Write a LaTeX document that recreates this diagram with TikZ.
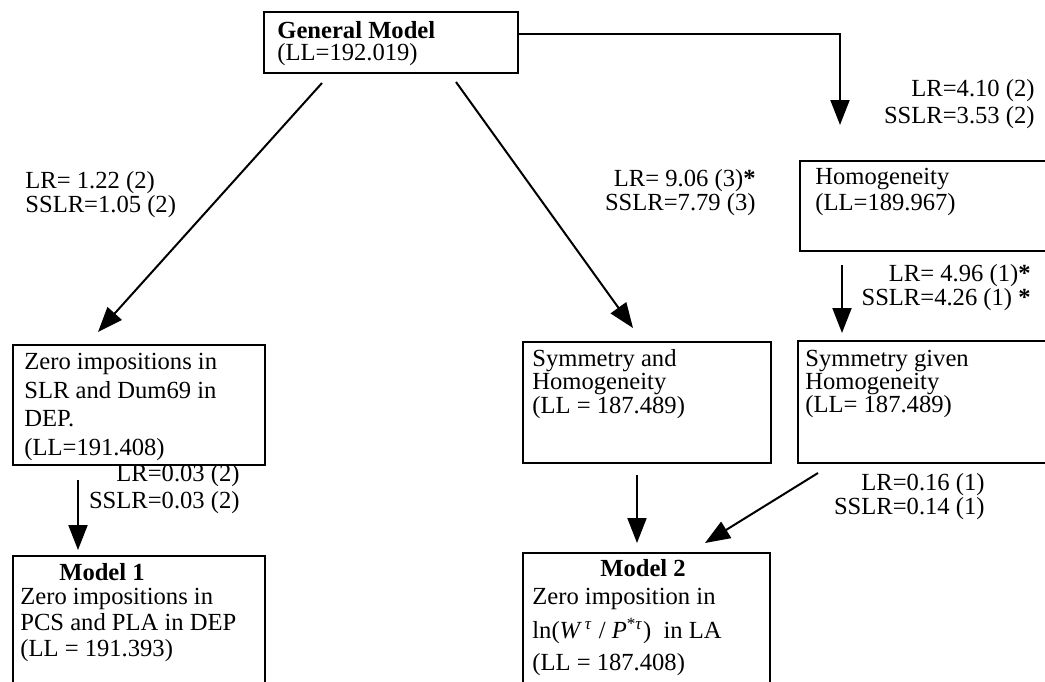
\documentclass[tikz,border=0pt]{standalone}
\usepackage{fontspec}
\setmainfont{Liberation Serif}
\usetikzlibrary{arrows.meta,calc}

\begin{document}
\begin{tikzpicture}[x=0.5pt,y=-0.5pt,
  box/.style={draw, line width=0.9pt, rectangle, inner sep=0pt, anchor=north west},
  txt/.style={inner sep=0pt, align=left, anchor=north west, font=\fontsize{12.3}{#1}\selectfont},
  lbl/.style={inner sep=0pt, align=right, anchor=north east, font=\fontsize{12.3}{#1}\selectfont},
  ttl/.style={inner sep=0pt, anchor=center, font=\fontsize{12.3}{14}\selectfont\bfseries},
  arr/.style={line width=1pt, -{Triangle[length=12.5pt,width=9.5pt]}}]

% page frame
\fill[white] (0,0) rectangle (1045,681);
\useasboundingbox (0,0) rectangle (1045,681);

% boxes
\node[box, minimum width=127pt, minimum height=30.5pt] (gm) at (263,11) {};
\node[box, minimum width=135.5pt, minimum height=45pt] (homog) at (799,160) {};
\node[box, minimum width=126pt, minimum height=60pt] (zl) at (12,344) {};
\node[box, minimum width=124pt, minimum height=60.5pt] (sah) at (522,341) {};
\node[box, minimum width=136.5pt, minimum height=61pt] (sgh) at (797,340) {};
\node[box, minimum width=126pt, minimum height=75pt] (m1) at (12,555) {};
\node[box, minimum width=123.5pt, minimum height=76pt] (m2) at (522,552) {};

% box contents
\node[txt=11pt] (gmt) at (277,21) {\textbf{General Model}\\(LL=192.019)};
\node[txt=13pt] (homogt) at (815,168) {Homogeneity\\(LL=189.967)};
\node[txt=14.3pt] (zlt) at (24,353) {Zero impositions in\\SLR and Dum69 in\\DEP.\\(LL=191.408)};
\node[txt=11.75pt] (saht) at (532,349) {Symmetry and\\Homogeneity\\(LL = 187.489)};
\node[txt=11.5pt] (sght) at (805,350) {Symmetry given\\Homogeneity\\(LL= 187.489)};
\node[ttl] (m1h) at (102,572) {Model 1};
\node[txt=13pt] (m1t) at (20,588) {Zero impositions in\\PCS and PLA in DEP\\(LL = 191.393)};
\node[ttl] (m2h) at (643,568) {Model 2};
\node[txt=13pt] (m2t) at (532,588) {Zero imposition in\\[4pt]
  ln(\textit{W}\textsuperscript{\,\textit{τ}} / \textit{P}\textsuperscript{*\textit{τ}})\ \ in LA\\[3pt]
  (LL = 187.408)};

% test statistics
\node[lbl=13.5pt] (s410) at (1035,79) {LR=4.10 (2)\\SSLR=3.53 (2)};
\node[txt=12pt] (s122) at (25,171) {LR= 1.22 (2)\\SSLR=1.05 (2)};
\node[lbl=12pt] (s906) at (756,169) {LR= 9.06 (3)\textbf{*}\\SSLR=7.79 (3)};
\node[lbl=11pt] (s496) at (1031,264) {LR= 4.96 (1)\textbf{*}\\SSLR=4.26 (1) \textbf{*}};
\node[lbl=13.5pt] (s003) at (240,464) {LR=0.03 (2)\\SSLR=0.03 (2)};
\node[lbl=12pt] (s016) at (985,473) {LR=0.16 (1)\\SSLR=0.14 (1)};

% connector end points
\coordinate (t0) at ($(gm.north east)+(0,23)$);
\coordinate (tc) at (840,34);
\coordinate (t1) at (840,125);
\coordinate (a0) at (322,83);
\coordinate (a1) at (98,332);
\coordinate (b0) at (456,82);
\coordinate (b1) at (633,328);
\coordinate (c0) at (842,265);
\coordinate (c1) at (842,333);
\coordinate (d0) at (78,480);
\coordinate (d1) at (78,550);
\coordinate (e0) at (637,475);
\coordinate (e1) at (637,543);
\coordinate (f0) at (818,473);
\coordinate (f1) at (705,543);

% connectors
\draw[arr] (t0) -- (tc) -- (t1);
\draw[arr] (a0) -- (a1);
\draw[arr] (b0) -- (b1);
\draw[arr] (c0) -- (c1);
\draw[arr] (d0) -- (d1);
\draw[arr] (e0) -- (e1);
\draw[arr] (f0) -- (f1);
\end{tikzpicture}
\end{document}
